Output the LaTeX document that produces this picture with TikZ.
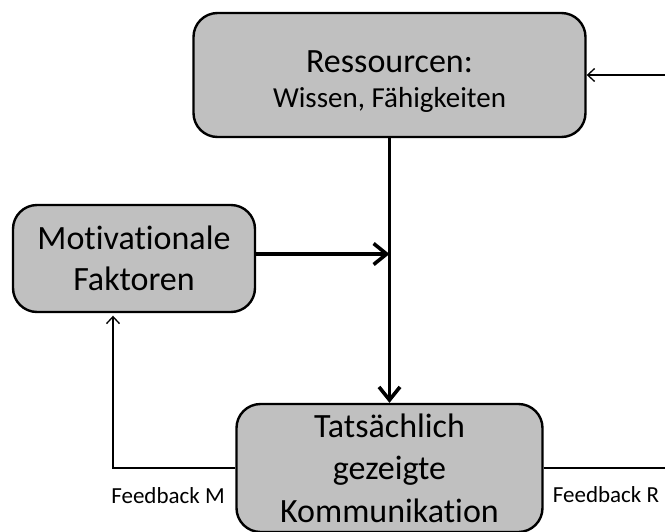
\documentclass[tikz,border=0pt]{standalone}
\usepackage{fontspec}
\setmainfont{Carlito}[Ligatures=NoCommon]
\usetikzlibrary{arrows.meta}
\definecolor{boxgray}{RGB}{192,192,192}
\begin{document}
\begin{tikzpicture}[x=1pt,y=-1pt,
  block/.style={draw=black, line width=2.4pt, fill=boxgray, rounded corners=24pt,
    align=center, inner sep=0pt},
  linetext/.style={anchor=base, inner sep=0pt},
  mainflow/.style={line width=3.6pt, -{Straight Barb[length=13pt,width=21pt]}},
  feedback/.style={line width=1.3pt},
  fbarrow/.style={feedback, -{Straight Barb[length=7pt,width=13pt]}},
  fblabel/.style={font=\fontsize{23}{27}\selectfont, inner sep=0pt}
]
\useasboundingbox (0,0) rectangle (665,531);
\clip (0,0) rectangle (665,531);

% resources box with its two lines of text
\node[block, minimum width=392pt, minimum height=124pt] (res) at (389.5,75) {};
\node[linetext, font=\fontsize{34}{36}\selectfont] (resA) at (389.5,72) {Ressourcen:};
\node[linetext, font=\fontsize{29}{34}\selectfont] (resB) at (389.5,107) {Wissen, Fähigkeiten};

% motivation box
\node[block, font=\fontsize{34}{41}\selectfont, minimum width=242pt, minimum height=107pt]
  (mot) at (134,258.5) {Motivationale\\Faktoren};

% communication box, running past the lower edge
\node[block, font=\fontsize{34}{42.5}\selectfont, minimum width=306pt, minimum height=128pt]
  (kom) at (389.5,468) {Tatsächlich\\gezeigte\\Kommunikation};

% main flow
\coordinate (join) at (389.5,254);
\draw[mainflow] (res.south) -- (kom.north);
\draw[mainflow] (join -| mot.east) -- (join);

% feedback loops
\coordinate (fbM) at (113,468);
\coordinate (fbR) at (670,468);
\coordinate (rin) at (670,75);
\draw[fbarrow, shorten >=2.5pt] (fbM -| kom.west) -- (fbM) -- (fbM |- mot.south);
\draw[feedback] (fbR -| kom.east) -- (fbR);
\draw[fbarrow] (rin) -- (rin -| res.east);

% labels
\node[fblabel] (lblM) at (168,496) {Feedback M};
\node[fblabel] (lblR) at (606,495) {Feedback R};
\end{tikzpicture}
\end{document}
